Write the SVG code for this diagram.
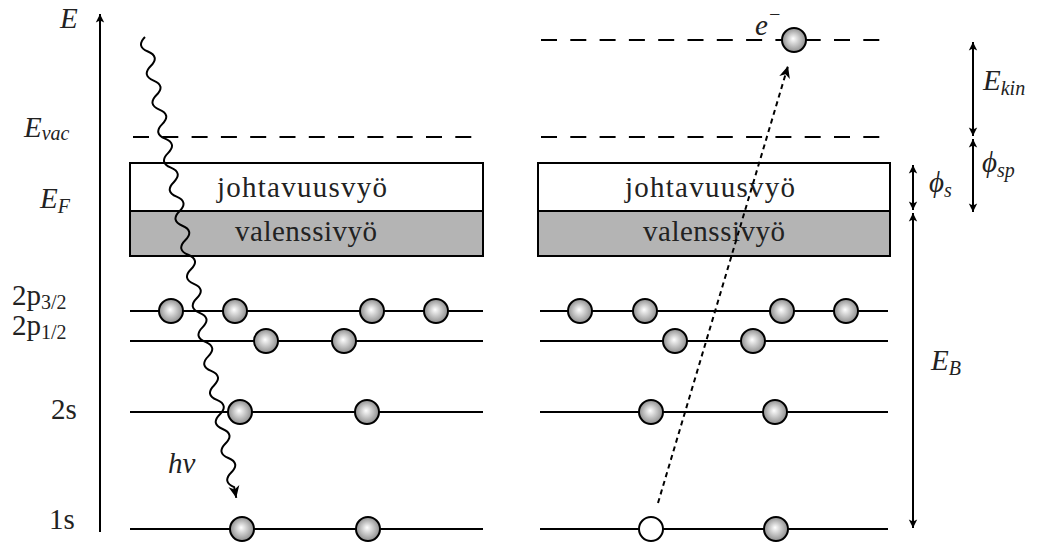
<svg xmlns="http://www.w3.org/2000/svg" width="1045" height="542" viewBox="0 0 1045 542">
  <style>
    .lvl { stroke: #000; stroke-width: 2; fill: none; }
    .dash { stroke: #000; stroke-width: 2; fill: none; stroke-dasharray: 16 13.3; }
    .band { stroke: #000; stroke-width: 2; }
    .ball { fill: url(#ballfill); stroke: #000; stroke-width: 2; }
    .hole { fill: #fff; stroke: #000; stroke-width: 2; }
    .t { font-family: 'Liberation Serif', serif; font-size: 29px; fill: #222; }
    .mi { font-style: italic; }
    .sub { font-size: 20px; }
    .arr { stroke: #000; stroke-width: 2; fill: none; }
  </style>
  <defs>
    <radialGradient id="ballfill" cx="50%" cy="50%" r="50%" fx="46%" fy="44%">
      <stop offset="0%" stop-color="#ffffff"/>
      <stop offset="100%" stop-color="#8e8e8e"/>
    </radialGradient>
    <marker id="big" viewBox="-13 -6 14 12" refX="0" refY="0" markerWidth="14" markerHeight="12" orient="auto" markerUnits="userSpaceOnUse">
      <path d="M0,0 L-12,-5.5 L-8.5,0 L-12,5.5 Z" fill="#000"/>
    </marker>
    <marker id="small" viewBox="-9 -5 10 10" refX="0" refY="0" markerWidth="10" markerHeight="10" orient="auto-start-reverse" markerUnits="userSpaceOnUse">
      <path d="M0,0 L-8.5,-4.2 L-6.5,0 L-8.5,4.2 Z" fill="#000"/>
    </marker>
  </defs>

  <rect width="1045" height="542" fill="#fff"/>

  <!-- energy axis -->
  <g id="axis">
    <line class="arr" x1="100" y1="532" x2="100" y2="14" marker-end="url(#small)"/>
    <text class="t mi" x="60" y="28">E</text>
  </g>

  <!-- level labels on the left -->
  <g id="labels-left">
    <text class="t mi" x="24" y="137">E<tspan class="sub" dy="3">vac</tspan></text>
    <text class="t mi" x="40" y="208">E<tspan class="sub" dy="5">F</tspan></text>
    <text class="t" x="12" y="305">2p<tspan class="sub" dy="4">3/2</tspan></text>
    <text class="t" x="12" y="335">2p<tspan class="sub" dy="4">1/2</tspan></text>
    <text class="t" x="51" y="419">2s</text>
    <text class="t" x="49" y="529">1s</text>
  </g>

  <!-- left panel: sample before emission -->
  <g id="left-panel">
    <line class="dash" x1="133" y1="137" x2="478" y2="137"/>
    <g id="left-bands">
      <rect class="band" x="130" y="163" width="353" height="48" fill="#fff"/>
      <rect class="band" x="130" y="211" width="353" height="45" fill="#b4b4b4"/>
      <text class="t" x="302" y="197" text-anchor="middle" textLength="170" lengthAdjust="spacing">johtavuusvyö</text>
      <text class="t" x="306" y="241" text-anchor="middle" textLength="142" lengthAdjust="spacing">valenssivyö</text>
    </g>
    <g id="left-levels">
      <line class="lvl" x1="130" y1="311" x2="483" y2="311"/>
      <line class="lvl" x1="130" y1="341" x2="483" y2="341"/>
      <line class="lvl" x1="130" y1="412" x2="483" y2="412"/>
      <line class="lvl" x1="130" y1="529" x2="483" y2="529"/>
    </g>
    <g id="left-electrons">
      <circle class="ball" cx="171" cy="311" r="12"/>
      <circle class="ball" cx="235" cy="311" r="12"/>
      <circle class="ball" cx="372" cy="311" r="12"/>
      <circle class="ball" cx="436" cy="311" r="12"/>
      <circle class="ball" cx="266" cy="341" r="12"/>
      <circle class="ball" cx="344" cy="341" r="12"/>
      <circle class="ball" cx="240" cy="412" r="12"/>
      <circle class="ball" cx="367" cy="412" r="12"/>
      <circle class="ball" cx="242" cy="529" r="12"/>
      <circle class="ball" cx="368" cy="529" r="12"/>
    </g>
  </g>

  <!-- right panel: sample after emission -->
  <g id="right-panel">
    <line class="dash" x1="541" y1="40" x2="880" y2="40"/>
    <line class="dash" x1="541" y1="137" x2="880" y2="137"/>
    <g id="right-bands">
      <rect class="band" x="538" y="163" width="352" height="48" fill="#fff"/>
      <rect class="band" x="538" y="211" width="352" height="45" fill="#b4b4b4"/>
      <text class="t" x="710" y="197" text-anchor="middle" textLength="170" lengthAdjust="spacing">johtavuusvyö</text>
      <text class="t" x="714" y="241" text-anchor="middle" textLength="142" lengthAdjust="spacing">valenssivyö</text>
    </g>
    <g id="right-levels">
      <line class="lvl" x1="540" y1="311" x2="888" y2="311"/>
      <line class="lvl" x1="540" y1="341" x2="888" y2="341"/>
      <line class="lvl" x1="540" y1="412" x2="888" y2="412"/>
      <line class="lvl" x1="540" y1="529" x2="888" y2="529"/>
    </g>
    <g id="right-electrons">
      <circle class="ball" cx="580" cy="311" r="12"/>
      <circle class="ball" cx="645" cy="311" r="12"/>
      <circle class="ball" cx="782" cy="311" r="12"/>
      <circle class="ball" cx="846" cy="311" r="12"/>
      <circle class="ball" cx="675" cy="341" r="12"/>
      <circle class="ball" cx="753" cy="341" r="12"/>
      <circle class="ball" cx="651" cy="412" r="12"/>
      <circle class="ball" cx="775" cy="412" r="12"/>
      <circle class="hole" cx="651" cy="529" r="12"/>
      <circle class="ball" cx="776" cy="529" r="12"/>
    </g>
    <g id="free-electron">
      <circle class="ball" cx="794" cy="40" r="12"/>
      <text class="t mi" x="755" y="35">e<tspan class="sub" dy="-14">−</tspan></text>
    </g>
  </g>

  <!-- connectors: photon, emitted electron path, energy spans -->
  <g id="connectors">
    <path id="photon" class="arr" transform="translate(145,37) rotate(78.8)" marker-end="url(#big)"
      d="M0,0 c4.93,7.3 9.87,7.3 14.8,0
         s9.87,-7.3 14.8,0 s9.87,7.3 14.8,0 s9.87,-7.3 14.8,0 s9.87,7.3 14.8,0
         s9.87,-7.3 14.8,0 s9.87,7.3 14.8,0 s9.87,-7.3 14.8,0 s9.87,7.3 14.8,0
         s9.87,-7.3 14.8,0 s9.87,7.3 14.8,0 s9.87,-7.3 14.8,0 s9.87,7.3 14.8,0
         s9.87,-7.3 14.8,0 s9.87,7.3 14.8,0 s9.87,-7.3 14.8,0 s9.87,7.3 14.8,0
         s9.87,-7.3 14.8,0 s9.87,7.3 14.8,0 s9.87,-7.3 14.8,0 s9.87,7.3 14.8,0
         s9.87,-7.3 14.8,0 s9.87,7.3 14.8,0 s9.87,-7.3 14.8,0 s9.87,7.3 14.8,0
         s9.87,-7.3 14.8,0 s9.87,7.3 14.8,0 s9.87,-7.3 14.8,0 s9.87,7.3 14.8,0
         s9.87,-7.3 14.8,0 s9.87,7.3 14.8,0 l11,0"/>
    <text class="t mi" x="168" y="473">hν</text>

    <line id="emission" class="arr" x1="658" y1="503" x2="788" y2="66" stroke-dasharray="5 4" marker-end="url(#big)"/>

    <line class="arr" x1="973" y1="42" x2="973" y2="136" marker-start="url(#small)" marker-end="url(#small)"/>
    <text class="t mi" x="983" y="90">E<tspan class="sub" dy="5">kin</tspan></text>

    <line class="arr" x1="973" y1="139" x2="973" y2="212" marker-start="url(#small)" marker-end="url(#small)"/>
    <text class="t mi" x="982" y="172">ϕ<tspan class="sub" dy="5">sp</tspan></text>

    <line class="arr" x1="913" y1="165" x2="913" y2="210" marker-start="url(#small)" marker-end="url(#small)"/>
    <text class="t mi" x="929" y="192">ϕ<tspan class="sub" dy="5">s</tspan></text>

    <line class="arr" x1="913" y1="213" x2="913" y2="528" marker-start="url(#small)" marker-end="url(#small)"/>
    <text class="t mi" x="931" y="370">E<tspan class="sub" dy="5">B</tspan></text>
  </g>
</svg>
